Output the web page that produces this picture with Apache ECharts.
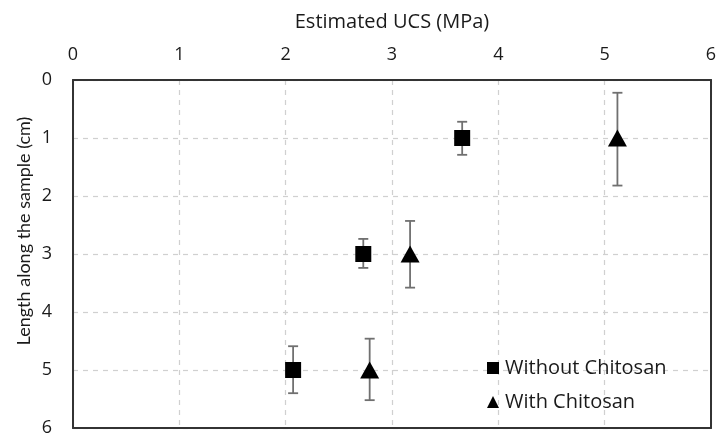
<!DOCTYPE html>
<html><head><meta charset="utf-8">
<script src="https://cdn.jsdelivr.net/npm/echarts@6/dist/echarts.min.js"></script>
<style>html,body{margin:0;padding:0;background:#fff}#c{width:721px;height:434px}</style>
</head><body><div id="c"></div>
<script>
var seriesNames = ['Without Chitosan', 'With Chitosan'];
var lengths = [1, 3, 5];
var ucsWithout = [3.66, 2.73, 2.07];
var lowWithout = [0.72, 2.74, 4.59];
var highWithout = [1.29, 3.24, 5.40];
var ucsWith = [5.12, 3.17, 2.79];
var lowWith = [0.22, 2.43, 4.46];
var highWith = [1.82, 3.58, 5.52];
var xTicks = [0, 1, 2, 3, 4, 5, 6];
var yTicks = [0, 1, 2, 3, 4, 5, 6];
var xTitle = 'Estimated UCS (MPa)';
var yTitle = 'Length along the sample (cm)';

var HF = 'Open Sans';
var VF = 'Lato';
var TXT = '#1a1a1a';
function pts(xs){ return xs.map(function(v,i){ return [v, lengths[i]]; }); }
function errs(xs, lo, hi){ return xs.map(function(v,i){ return [v, lo[i], hi[i]]; }); }
function errRender(params, api){
  var x = api.value(0), lo = api.value(1), hi = api.value(2);
  var a = api.coord([x, lo]), b = api.coord([x, hi]);
  var w = 5;
  var st = {stroke:'#707070', lineWidth:1.8};
  return {type:'group', children:[
    {type:'line', shape:{x1:a[0],y1:a[1],x2:b[0],y2:b[1]}, style:st},
    {type:'line', shape:{x1:a[0]-w,y1:a[1],x2:a[0]+w,y2:a[1]}, style:st},
    {type:'line', shape:{x1:b[0]-w,y1:b[1],x2:b[0]+w,y2:b[1]}, style:st}
  ]};
}
var border = {show:true, onZero:false, lineStyle:{color:'#333', width:2}};
var dash = {show:true, lineStyle:{type:[5,5], color:'#d0d0d0', width:1.2}};
var chart = echarts.init(document.getElementById('c'));
chart.setOption({
  animation:false,
  textStyle:{fontFamily:HF},
  grid:{left:73, right:10, top:80, bottom:6, show:false, containLabel:false, outerBoundsMode:'none'},
  graphic:[{type:'text', x:24, y:231, rotation:Math.PI/2,
    style:{text:yTitle, font:'18px ' + VF, fill:TXT, textAlign:'center', textVerticalAlign:'middle'}}],
  xAxis:[
    {type:'value', position:'top', min:0, max:6, interval:1,
    name:xTitle, nameLocation:'middle', nameGap:48,
    nameTextStyle:{fontFamily:HF, fontSize:20, color:TXT},
    axisLine:border, axisTick:{show:false},
    axisLabel:{fontFamily:HF, fontSize:18, color:TXT, margin:16,
      formatter:function(v){ return xTicks.indexOf(v)>=0 ? String(v) : ''; }},
    splitLine:dash},
    {type:'value', position:'bottom', min:0, max:6, interval:1,
    axisLine:border, axisTick:{show:false}, axisLabel:{show:false}, splitLine:{show:false}}
  ],
  yAxis:[
    {type:'value', inverse:true, min:0, max:6, interval:1,
    axisLine:border, axisTick:{show:false},
    axisLabel:{fontFamily:HF, fontSize:18, color:TXT, margin:21,
      formatter:function(v){ return yTicks.indexOf(v)>=0 ? String(v) : ''; }},
    splitLine:dash},
    {type:'value', position:'right', inverse:true, min:0, max:6, interval:1,
    axisLine:border, axisTick:{show:false}, axisLabel:{show:false}, splitLine:{show:false}}
  ],
  legend:{orient:'vertical', left:482, top:353, itemGap:14, itemWidth:12, itemHeight:12,
    textStyle:{fontFamily:HF, fontSize:20, color:TXT, padding:[0,0,0,1]},
    data:[{name:seriesNames[0], icon:'rect'}, {name:seriesNames[1], icon:'triangle'}]},
  series:[
    {type:'custom', renderItem:errRender, data:errs(ucsWithout, lowWithout, highWithout), z:1, silent:true},
    {type:'custom', renderItem:errRender, data:errs(ucsWith, lowWith, highWith), z:1, silent:true},
    {name:seriesNames[0], type:'scatter', symbol:'rect', symbolSize:16, data:pts(ucsWithout),
      itemStyle:{color:'#000', opacity:1}, z:3},
    {name:seriesNames[1], type:'scatter', symbol:'triangle', symbolSize:[19,17], data:pts(ucsWith),
      itemStyle:{color:'#000', opacity:1}, z:3}
  ]
});
</script></body></html>
